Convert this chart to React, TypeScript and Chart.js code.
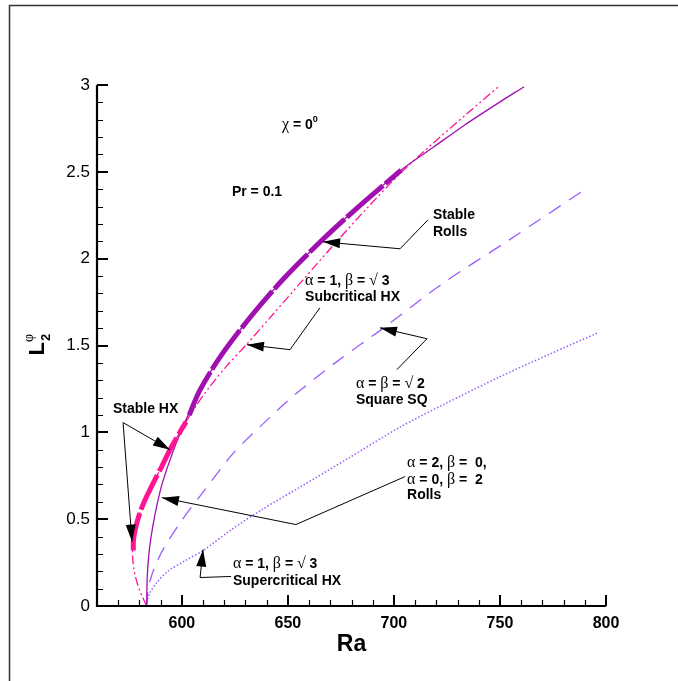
import React, { useEffect, useRef } from 'react';
import { Chart, registerables } from 'chart.js';

Chart.register(...registerables);

const SANS = '"Liberation Sans", Arial, Helvetica, sans-serif';
const SERIF = '"Liberation Serif", "Times New Roman", serif';

const PURPLE = '#a010b0';
const PINK = '#ff1493';
const VIOLET = '#9b5cff';

// axis ticks
const xMajorTicks = [600, 650, 700, 750, 800];
const xMinorTicks = [570, 580, 590, 610, 620, 630, 640, 660, 670, 680, 690, 710, 720, 730, 740, 760, 770, 780, 790];
const yMajorTicks = [0, 0.5, 1, 1.5, 2, 2.5, 3];
const yMinorTicks = [0.1, 0.2, 0.3, 0.4, 0.6, 0.7, 0.8, 0.9, 1.1, 1.2, 1.3, 1.4, 1.6, 1.7, 1.8, 1.9, 2.1, 2.2, 2.3, 2.4, 2.6, 2.7, 2.8, 2.9];

// Rolls (alpha=2,beta=0 / alpha=0,beta=2) - thin solid
const rollsRa = [583.4, 583.7, 584.4, 585.4, 587.4, 590.4, 594.4, 599.4, 608.4, 618.4, 633.4, 648.4, 666.4, 683.4, 703.4, 718.4, 733.4, 748.4, 761.4];
const rollsL = [0, 0.17, 0.29, 0.39, 0.53, 0.69, 0.84, 1.0, 1.24, 1.44, 1.68, 1.89, 2.11, 2.30, 2.51, 2.64, 2.77, 2.89, 2.99];

// Stable rolls - thick solid
const stableRollsRa = [603.5, 608.4, 618.4, 633.4, 648.4, 666.4, 683.4, 703.4];
const stableRollsL = [1.10, 1.24, 1.44, 1.68, 1.89, 2.11, 2.30, 2.51];

// Subcritical HX (alpha=1, beta=sqrt3) - dash-dot-dot
const subHxRa = [583.4, 581.5, 579.8, 578.3, 577.3, 576.8, 576.8, 577.2, 578.2, 580.3, 583.0, 586.6, 590.4, 594.4, 600.0, 606.0, 613.0, 621.0, 630.8, 643.0, 657.3, 673.1, 688.0, 702.9, 718.0, 734.0, 749.8];
const subHxL = [0, 0.05, 0.10, 0.16, 0.22, 0.28, 0.33, 0.38, 0.45, 0.54, 0.62, 0.71, 0.80, 0.90, 1.02, 1.14, 1.26, 1.38, 1.51, 1.68, 1.88, 2.10, 2.30, 2.49, 2.66, 2.83, 2.995];

// Stable HX - thick
const stableHxRa = [577.1, 577.2, 578.2, 580.3, 583.0, 586.6, 590.4, 594.4, 600.0, 602.0];
const stableHxL = [0.32, 0.38, 0.45, 0.54, 0.62, 0.71, 0.80, 0.90, 1.02, 1.06];

// Square SQ (alpha=beta=sqrt2) - dashed
const squareRa = [583.4, 583.9, 584.9, 587.4, 591.4, 599.2, 608.4, 624.3, 638.4, 652.6, 673.4, 695.0, 723.3, 753.4, 790.2];
const squareL = [0, 0.08, 0.14, 0.23, 0.33, 0.48, 0.63, 0.88, 1.05, 1.21, 1.41, 1.60, 1.86, 2.10, 2.40];

// Supercritical HX (alpha=1, beta=sqrt3) - dotted
const superHxRa = [583.4, 583.9, 584.9, 588.1, 593.4, 601.4, 610.1, 623.4, 638.4, 655.8, 678.4, 702.9, 723.4, 750.0, 773.4, 796.5];
const superHxL = [0, 0.04, 0.075, 0.134, 0.20, 0.26, 0.32, 0.44, 0.56, 0.685, 0.85, 1.03, 1.16, 1.32, 1.45, 1.575];

type Seg = [string, string];

// annotation texts (left edge Ra, middle-line L)
const noteRa = [647.2, 623.6, 718.4, 718.4, 658.1, 658.1, 682.1, 682.1, 706.2, 706.2, 706.2, 624.1, 624.1, 567.5];
const noteL = [2.776, 2.39, 2.258, 2.16, 1.879, 1.787, 1.286, 1.194, 0.831, 0.734, 0.647, 0.245, 0.147, 1.142];
const noteTexts: Seg[][] = [
  [['χ', 'g'], [' = 0', 'b'], ['0', 's']],
  [['Pr = 0.1', 'b']],
  [['Stable', 'b']],
  [['Rolls', 'b']],
  [['α', 'g'], [' = 1, ', 'b'], ['β', 'g'], [' = ', 'b'], ['√', 'g'], [' 3', 'b']],
  [['Subcritical HX', 'b']],
  [['α', 'g'], [' = ', 'b'], ['β', 'g'], [' = ', 'b'], ['√', 'g'], [' 2', 'b']],
  [['Square SQ', 'b']],
  [['α', 'g'], [' = 2, ', 'b'], ['β', 'g'], [' =  0,', 'b']],
  [['α', 'g'], [' = 0, ', 'b'], ['β', 'g'], [' =  2', 'b']],
  [['Rolls', 'b']],
  [['α', 'g'], [' = 1, ', 'b'], ['β', 'g'], [' = ', 'b'], ['√', 'g'], [' 3', 'b']],
  [['Supercritical HX', 'b']],
  [['Stable HX', 'b']],
];

// arrows: polylines in data coords, head at the last point
const arrowRa = [
  [716.1, 702.9, 666.6],
  [665.1, 651.0, 630.7],
  [701.4, 715.6, 693.4],
  [705.2, 653.8, 590.6],
  [623.2, 608.6, 610.0],
  [572.3, 594.4],
  [572.3, 576.5],
];
const arrowL = [
  [2.224, 2.057, 2.097],
  [1.717, 1.476, 1.505],
  [1.361, 1.539, 1.602],
  [0.745, 0.469, 0.624],
  [0.170, 0.164, 0.325],
  [1.056, 0.90],
  [1.056, 0.371],
];

const FONTS: Record<string, string> = {
  b: `bold 14px ${SANS}`,
  g: `16px ${SERIF}`,
  s: `bold 9px ${SANS}`,
};

const pts = (xs: number[], ys: number[]) => xs.map((x, i) => ({ x, y: ys[i] }));

const decorPlugin = {
  id: 'decor',
  beforeDraw(chart: any) {
    const ctx = chart.ctx;
    ctx.save();
    ctx.fillStyle = '#fff';
    ctx.fillRect(0, 0, chart.width, chart.height);
    ctx.strokeStyle = '#333';
    ctx.lineWidth = 1.5;
    ctx.beginPath();
    ctx.moveTo(9.5, chart.height);
    ctx.lineTo(9.5, 5.5);
    ctx.lineTo(chart.width, 5.5);
    ctx.stroke();
    ctx.restore();
  },
  afterDraw(chart: any) {
    const ctx = chart.ctx;
    const xs = chart.scales.x;
    const ys = chart.scales.y;
    const left = xs.left;
    const right = xs.right;
    const top = ys.top;
    const bottom = ys.bottom;
    ctx.save();
    ctx.strokeStyle = '#000';
    // axis lines
    ctx.lineWidth = 2.2;
    ctx.beginPath();
    ctx.moveTo(left, top);
    ctx.lineTo(left, bottom);
    ctx.lineTo(right, bottom);
    ctx.stroke();
    // ticks (inward)
    ctx.lineWidth = 2;
    ctx.beginPath();
    for (const v of xMajorTicks) {
      const p = Math.round(xs.getPixelForValue(v));
      ctx.moveTo(p, bottom);
      ctx.lineTo(p, bottom - 11);
    }
    for (const v of yMajorTicks) {
      const p = Math.round(ys.getPixelForValue(v));
      ctx.moveTo(left, p);
      ctx.lineTo(left + 11, p);
    }
    ctx.stroke();
    ctx.lineWidth = 1.2;
    ctx.beginPath();
    for (const v of xMinorTicks) {
      const p = Math.round(xs.getPixelForValue(v)) + 0.5;
      ctx.moveTo(p, bottom);
      ctx.lineTo(p, bottom - 6);
    }
    for (const v of yMinorTicks) {
      const p = Math.round(ys.getPixelForValue(v)) + 0.5;
      ctx.moveTo(left, p);
      ctx.lineTo(left + 6, p);
    }
    ctx.stroke();

    // axis titles
    ctx.fillStyle = '#000';
    ctx.textAlign = 'center';
    ctx.textBaseline = 'alphabetic';
    ctx.font = `bold 23px ${SANS}`;
    ctx.fillText('Ra', (left + right) / 2, bottom + 45);

    ctx.save();
    ctx.translate(44, ys.getPixelForValue(1.5) + 10);
    ctx.rotate(-Math.PI / 2);
    ctx.textAlign = 'left';
    ctx.font = `bold 22px ${SANS}`;
    ctx.fillText('L', 0, 0);
    const lw = ctx.measureText('L').width;
    ctx.font = `bold 13px ${SANS}`;
    ctx.fillText('2', lw + 1, 6);
    ctx.font = `14px ${SERIF}`;
    ctx.fillText('φ', lw, -11);
    ctx.restore();

    // annotation texts
    ctx.textAlign = 'left';
    for (let i = 0; i < noteTexts.length; i++) {
      let cx = xs.getPixelForValue(noteRa[i]);
      const cy = ys.getPixelForValue(noteL[i]) + 5;
      for (const [t, k] of noteTexts[i]) {
        ctx.font = FONTS[k];
        ctx.fillText(t, cx, k === 's' ? cy - 7 : cy);
        cx += ctx.measureText(t).width;
      }
    }

    // arrows
    ctx.lineWidth = 1;
    ctx.strokeStyle = '#000';
    for (let i = 0; i < arrowRa.length; i++) {
      const px = arrowRa[i].map((v) => xs.getPixelForValue(v));
      const py = arrowL[i].map((v) => ys.getPixelForValue(v));
      const n = px.length;
      ctx.beginPath();
      ctx.moveTo(px[0], py[0]);
      for (let j = 1; j < n; j++) ctx.lineTo(px[j], py[j]);
      ctx.stroke();
      const ang = Math.atan2(py[n - 1] - py[n - 2], px[n - 1] - px[n - 2]);
      const len = 17;
      const hw = 5;
      const tx = px[n - 1];
      const ty = py[n - 1];
      const bx = tx - len * Math.cos(ang);
      const by = ty - len * Math.sin(ang);
      ctx.beginPath();
      ctx.moveTo(tx, ty);
      ctx.lineTo(bx + hw * Math.sin(ang), by - hw * Math.cos(ang));
      ctx.lineTo(bx - hw * Math.sin(ang), by + hw * Math.cos(ang));
      ctx.closePath();
      ctx.fill();
    }
    ctx.restore();
  },
};

export default function App() {
  const ref = useRef<HTMLCanvasElement>(null);
  useEffect(() => {
    if (!ref.current) return;
    const chart = new Chart(ref.current, {
      type: 'line',
      data: {
        datasets: [
          {
            data: pts(stableRollsRa, stableRollsL),
            borderColor: PURPLE,
            borderWidth: 5,
            borderDash: [48, 3],
            pointRadius: 0,
            tension: 0.3,
            fill: false,
          },
          {
            data: pts(stableHxRa, stableHxL),
            borderColor: PINK,
            borderWidth: 5,
            borderDash: [38, 4],
            pointRadius: 0,
            tension: 0.3,
            fill: false,
          },
          {
            data: pts(rollsRa, rollsL),
            borderColor: PURPLE,
            borderWidth: 1.3,
            pointRadius: 0,
            tension: 0.3,
            fill: false,
          },
          {
            data: pts(subHxRa, subHxL),
            borderColor: PINK,
            borderWidth: 1.3,
            borderDash: [9, 3, 2, 3, 2, 3],
            pointRadius: 0,
            tension: 0.3,
            fill: false,
          },
          {
            data: pts(squareRa, squareL),
            borderColor: VIOLET,
            borderWidth: 1.3,
            borderDash: [14, 10],
            pointRadius: 0,
            tension: 0.3,
            fill: false,
          },
          {
            data: pts(superHxRa, superHxL),
            borderColor: VIOLET,
            borderWidth: 1.5,
            borderDash: [1.5, 2],
            pointRadius: 0,
            tension: 0.3,
            fill: false,
          },
        ],
      },
      options: {
        responsive: false,
        animation: false,
        devicePixelRatio: 1,
        layout: { padding: { top: 85, right: 72, left: 0, bottom: 0 } },
        plugins: { legend: { display: false }, tooltip: { enabled: false } },
        scales: {
          x: {
            type: 'linear',
            min: 560,
            max: 800,
            grid: { display: false, drawTicks: false },
            border: { display: false },
            afterBuildTicks: (s: any) => {
              s.ticks = xMajorTicks.map((v) => ({ value: v }));
            },
            afterFit: (s: any) => {
              s.height = 75;
            },
            ticks: {
              color: '#000',
              padding: 8,
              autoSkip: false,
              maxRotation: 0,
              font: { family: SANS, size: 16, weight: 'bold' },
              callback: (v: any) => String(v),
            },
          },
          y: {
            type: 'linear',
            min: 0,
            max: 3,
            grid: { display: false, drawTicks: false },
            border: { display: false },
            afterBuildTicks: (s: any) => {
              s.ticks = yMajorTicks.map((v) => ({ value: v }));
            },
            afterFit: (s: any) => {
              s.width = 97;
            },
            ticks: {
              color: '#000',
              padding: 7,
              autoSkip: false,
              font: { family: SANS, size: 17 },
              callback: (v: any) => String(v),
            },
          },
        },
      },
      plugins: [decorPlugin],
    } as any);
    return () => chart.destroy();
  }, []);
  return (
    <div style={{ position: 'fixed', left: 0, top: 0, width: 678, height: 681, background: '#fff' }}>
      <canvas ref={ref} width={678} height={681} style={{ display: 'block' }} />
    </div>
  );
}
